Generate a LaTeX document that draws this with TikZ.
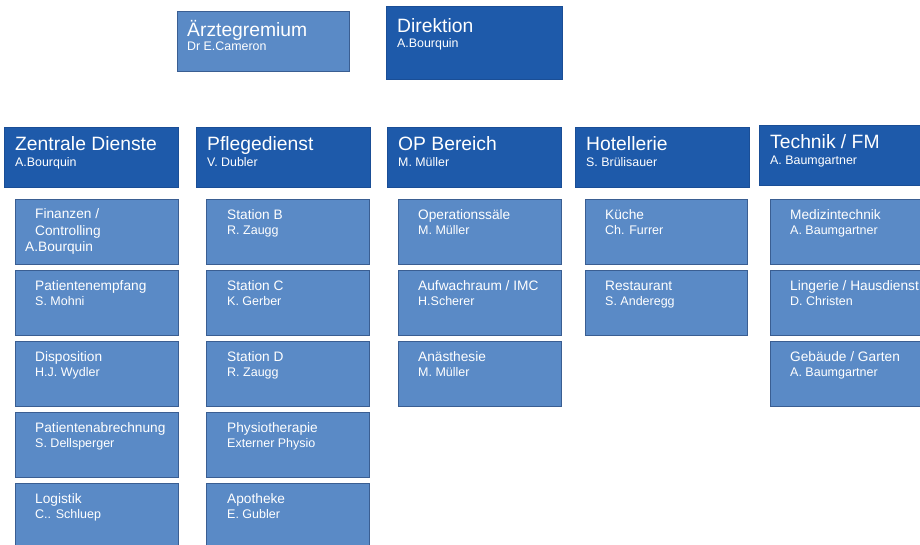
\documentclass[tikz,border=0pt]{standalone}
\usepackage{fontspec}
\setmainfont{Liberation Sans}
\usepackage{xcolor}

\definecolor{headblue}{RGB}{30,90,170}
\definecolor{headedge}{RGB}{26,78,150}
\definecolor{subblue}{RGB}{90,138,198}
\definecolor{subedge}{RGB}{58,94,146}

\tikzset{
  headbox/.style={draw=headedge, fill=headblue, line width=0.8pt, anchor=north west,
    minimum width=174pt, minimum height=60pt, inner sep=0pt},
  subbox/.style={draw=subedge, fill=subblue, line width=1pt, anchor=north west,
    minimum width=163pt, minimum height=65pt, inner sep=0pt},
  headtitle/.style={text=white, anchor=base west, inner sep=0pt, font=\fontsize{19.3}{22}\selectfont},
  headname/.style={text=white, anchor=base west, inner sep=0pt, font=\fontsize{12.4}{14}\selectfont},
  subtitle/.style={text=white, anchor=base west, inner sep=0pt, font=\fontsize{13.7}{16}\selectfont},
  subname/.style={text=white, anchor=base west, inner sep=0pt, font=\fontsize{12.5}{14}\selectfont},
}

\begin{document}
\begin{tikzpicture}[x=1pt, y=-1pt]
  \useasboundingbox[fill=white] (0,0) rectangle (920,544);

  % top
  \node[subbox, minimum width=172pt, minimum height=60pt] (ag) at (177,11) {};
  \node[headtitle] (ag-t) at ([xshift=10pt, yshift=-25pt]ag.north west) {Ärztegremium};
  \node[headname] (ag-n) at ([xshift=10pt, yshift=-39pt]ag.north west) {Dr E.Cameron};

  \node[headbox, minimum width=176pt, minimum height=73pt] (dir) at (386,6) {};
  \node[headtitle] (dir-t) at ([xshift=11pt, yshift=-26pt]dir.north west) {Direktion};
  \node[headname] (dir-n) at ([xshift=11pt, yshift=-41pt]dir.north west) {A.Bourquin};

  % departments
  \foreach \nm/\x/\y/\t/\p in {zd/4/127/Zentrale Dienste/A.Bourquin,
      pd/196/127/Pflegedienst/V. Dubler,
      op/387/127/OP Bereich/M. Müller,
      ho/575/127/Hotellerie/S. Brülisauer,
      te/759/125/{Technik / FM}/A. Baumgartner} {
    \node[headbox] (\nm) at (\x,\y) {};
    \node[headtitle] (\nm-t) at ([xshift=11pt, yshift=-23pt]\nm.north west) {\t};
    \node[headname] (\nm-n) at ([xshift=11pt, yshift=-39pt]\nm.north west) {\p};
  }

  % Zentrale Dienste
  \node[subbox] (zd1) at (15,199) {};
  \node[subtitle] (zd1-t) at ([xshift=20pt, yshift=-19pt]zd1.north west) {Finanzen /};
  \node[subtitle] (zd1-u) at ([xshift=20pt, yshift=-36pt]zd1.north west) {Controlling};
  \node[subtitle] (zd1-n) at ([xshift=10pt, yshift=-52pt]zd1.north west) {A.Bourquin};
  \foreach \t/\p [count=\i from 2] in {Patientenempfang/S. Mohni,
      Disposition/H.J. Wydler,
      Patientenabrechnung/S. Dellsperger,
      Logistik/C.. Schluep} {
    \node[subbox] (zd\i) at (15,{199+71*(\i-1)}) {};
    \node[subtitle] (zd\i-t) at ([xshift=20pt, yshift=-20pt]zd\i.north west) {\t};
    \node[subname] (zd\i-n) at ([xshift=20pt, yshift=-35pt]zd\i.north west) {\p};
  }

  % Pflegedienst
  \foreach \t/\p [count=\i] in {Station B/R. Zaugg,
      Station C/K. Gerber,
      Station D/R. Zaugg,
      Physiotherapie/Externer Physio,
      Apotheke/E. Gubler} {
    \node[subbox] (pd\i) at (206,{199+71*(\i-1)}) {};
    \node[subtitle] (pd\i-t) at ([xshift=21pt, yshift=-20pt]pd\i.north west) {\t};
    \node[subname] (pd\i-n) at ([xshift=21pt, yshift=-35pt]pd\i.north west) {\p};
  }

  % OP Bereich
  \foreach \t/\p [count=\i] in {Operationssäle/M. Müller,
      {Aufwachraum / IMC}/H.Scherer,
      Anästhesie/M. Müller} {
    \node[subbox] (op\i) at (398,{199+71*(\i-1)}) {};
    \node[subtitle] (op\i-t) at ([xshift=20pt, yshift=-20pt]op\i.north west) {\t};
    \node[subname] (op\i-n) at ([xshift=20pt, yshift=-35pt]op\i.north west) {\p};
  }

  % Hotellerie
  \foreach \t/\p [count=\i] in {Küche/Ch. Furrer,
      Restaurant/S. Anderegg} {
    \node[subbox, minimum width=162pt] (ho\i) at (585,{199+71*(\i-1)}) {};
    \node[subtitle] (ho\i-t) at ([xshift=20pt, yshift=-20pt]ho\i.north west) {\t};
    \node[subname] (ho\i-n) at ([xshift=20pt, yshift=-35pt]ho\i.north west) {\p};
  }

  % Technik / FM
  \foreach \t/\p [count=\i] in {Medizintechnik/A. Baumgartner,
      {Lingerie / Hausdienst}/D. Christen,
      {Gebäude / Garten}/A. Baumgartner} {
    \node[subbox] (te\i) at (770,{199+71*(\i-1)}) {};
    \node[subtitle] (te\i-t) at ([xshift=20pt, yshift=-20pt]te\i.north west) {\t};
    \node[subname] (te\i-n) at ([xshift=20pt, yshift=-35pt]te\i.north west) {\p};
  }
\end{tikzpicture}
\end{document}
